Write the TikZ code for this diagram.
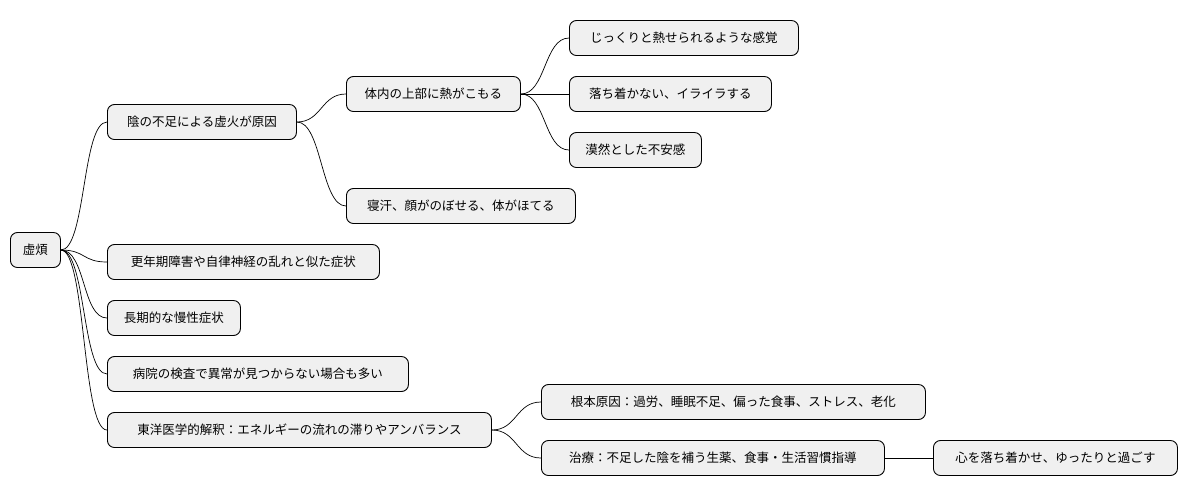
\documentclass[tikz,border=0pt]{standalone}
\usepackage{fontspec}
\setmainfont{Noto Sans CJK JP}
\begin{document}
\begin{tikzpicture}[x=1pt,y=-1pt,
  box/.style={draw=black,line width=0.9pt,fill=black!6,rounded corners=7pt,minimum height=35pt,inner xsep=0pt,anchor=west,font=\fontsize{12.5}{14}\selectfont},
  link/.style={draw=black,line width=0.7pt}]
\useasboundingbox (0,0) rectangle (1188,499);
\node[box,minimum width=50pt] (r) at (10,250) {虚煩};
\node[box,minimum width=189pt] (a) at (107,122) {陰の不足による虚火が原因};
\node[box,minimum width=174pt] (a1) at (346,94) {体内の上部に熱がこもる};
\node[box,minimum width=229pt] (a11) at (569,38) {じっくりと熱せられるような感覚};
\node[box,minimum width=202pt] (a12) at (569,94) {落ち着かない、イライラする};
\node[box,minimum width=132pt] (a13) at (569,150) {漠然とした不安感};
\node[box,minimum width=229pt] (a2) at (346,206) {寝汗、顔がのぼせる、体がほてる};
\node[box,minimum width=272pt] (b) at (107,262) {更年期障害や自律神経の乱れと似た症状};
\node[box,minimum width=133pt] (c) at (107,318) {長期的な慢性症状};
\node[box,minimum width=301pt] (d) at (107,374) {病院の検査で異常が見つからない場合も多い};
\node[box,minimum width=384pt] (e) at (107,430) {東洋医学的解釈：エネルギーの流れの滞りやアンバランス};
\node[box,minimum width=384pt] (e1) at (541,402) {根本原因：過労、睡眠不足、偏った食事、ストレス、老化};
\node[box,minimum width=343pt] (e2) at (541,458) {治療：不足した陰を補う生薬、食事・生活習慣指導};
\node[box,minimum width=244pt] (e21) at (933,458) {心を落ち着かせ、ゆったりと過ごす};
\foreach \p/\c in {r/a,r/b,r/c,r/d,r/e,a/a1,a/a2,a1/a11,a1/a12,a1/a13,e/e1,e/e2}
  \draw[link] (\p.east) .. controls +(25,0) and +(-25,0) .. (\c.west);
\draw[link] (e2) -- (e21);
\end{tikzpicture}
\end{document}
